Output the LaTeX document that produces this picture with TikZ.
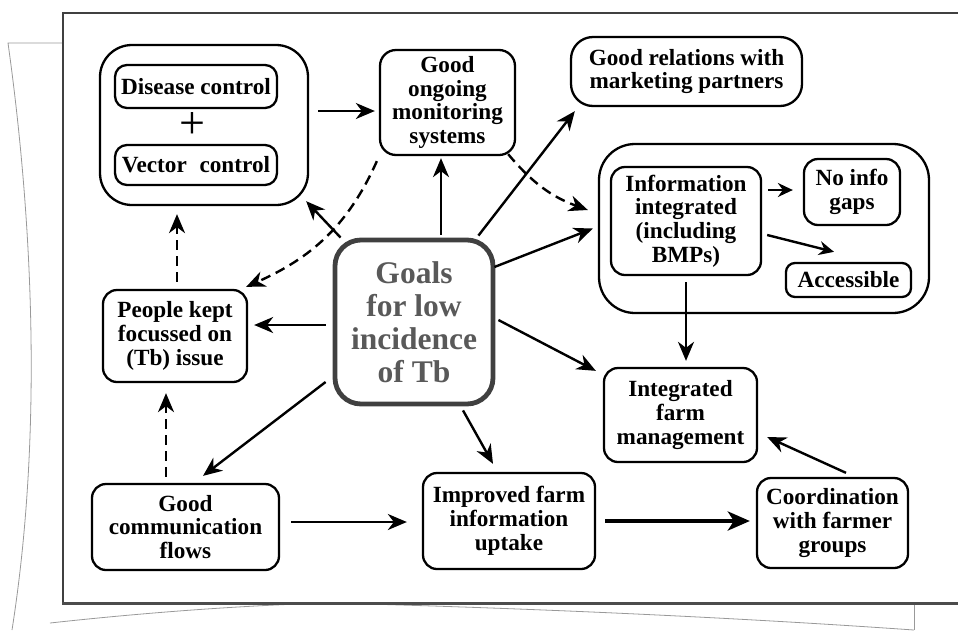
\documentclass[tikz,border=0pt]{standalone}
\usepackage{fontspec}
\setmainfont{Liberation Serif}
\usetikzlibrary{arrows.meta}
\begin{document}
\begin{tikzpicture}[x=1pt,y=-1pt,
  box/.style={draw, line width=2.3pt, rounded corners=14pt, align=center, inner sep=0pt,
    font=\bfseries\fontsize{23.2}{23.8}\selectfont},
  container/.style={draw, line width=2.3pt, rounded corners=32pt, inner sep=0pt},
  arr/.style={-{Stealth[length=19pt,width=16pt,inset=6pt]}, line width=2.4pt},
  smallarr/.style={-{Stealth[length=15pt,width=14pt,inset=5pt]}, line width=2.4pt},
  thickarr/.style={-{Stealth[length=22pt,width=19pt,inset=6pt]}, line width=4.2pt},
  darr/.style={arr, dash pattern=on 10pt off 6pt},
  sheet/.style={draw=black!40, line width=0.8pt},
  frame/.style={draw=black!75, line width=2pt}
]
\useasboundingbox (0,0) rectangle (958,630);
% background sheet
\draw[sheet] (63,43) -- (8,43) .. controls (30,200) and (45,420) .. (12,630);
\draw[sheet] (50,623) .. controls (150,612) and (250,605) .. (330,603)
   .. controls (600,610) and (800,622) .. (914,630);
\draw[sheet] (914,603) -- (914,630);
% main frame
\draw[frame] (958,13) -- (63,13) -- (63,603);
\draw[draw=black!70, line width=3pt] (62,603) -- (958,603);

% containers
\node[container, minimum width=208pt, minimum height=160pt] (dvbox) at (204,125) {};
\node[container, rounded corners=36pt, minimum width=330pt, minimum height=169pt] (infocont) at (764,228.5) {};

% boxes
\node[box, rounded corners=12pt, minimum width=162pt, minimum height=43pt] (disease) at (196,86.5) {Disease control};
\node[box, rounded corners=12pt, minimum width=162pt, minimum height=40pt] (vector) at (196,165) {Vector\hspace{0.55em}control};
\node[font=\fontsize{46}{46}\selectfont, inner sep=0pt] (plus) at (192,126) {+};
\node[box, rounded corners=16pt, minimum width=135pt, minimum height=105pt] (monitor) at (447.5,102.5) {Good\\ongoing\\monitoring\\systems};
\node[box, rounded corners=22pt, minimum width=231pt, minimum height=69pt] (relations) at (686.5,71.5) {Good relations with\\marketing partners};
\node[box, minimum width=150pt, minimum height=108pt] (info) at (686,221) {Information\\integrated\\(including\\BMPs)};
\node[box, minimum width=96pt, minimum height=66pt] (nogaps) at (852,192) {No info\\gaps};
\node[box, rounded corners=9pt, minimum width=125pt, minimum height=34pt] (access) at (848.5,280) {Accessible};
\node[draw=black!75, line width=4.8pt, rounded corners=26pt, align=center, inner sep=0pt,
  text=black!65, font=\bfseries\fontsize{31.5}{33}\selectfont,
  minimum width=158pt, minimum height=164pt] (goals) at (414,322) {Goals\\for low\\incidence\\of Tb};
\node[box, minimum width=144pt, minimum height=92pt] (people) at (175,336) {People kept\\focussed on\\(Tb) issue};
\node[box, minimum width=187pt, minimum height=86pt] (comm) at (185.5,527) {Good\\communication\\flows};
\node[box, minimum width=172pt, minimum height=96pt] (improved) at (509,521) {Improved farm\\information\\uptake};
\node[box, minimum width=153pt, minimum height=94pt] (ifm) at (680.5,415) {Integrated\\farm\\management};
\node[box, minimum width=151pt, minimum height=90pt] (coord) at (832.5,523) {Coordination\\with farmer\\groups};

% connectors
\draw[arr] ([xshift=9pt,yshift=14pt]dvbox.east) -- ([xshift=-4pt,yshift=-8.5pt]monitor.west);
\draw[arr] ([xshift=8pt]goals.north west) -- ([xshift=-3pt,yshift=5pt]dvbox.south east);
\draw[arr] ([xshift=27pt,yshift=3pt]goals.north) -- ([xshift=-6.5pt,yshift=-2pt]monitor.south);
\draw[darr] ([xshift=-2pt,yshift=-5pt]monitor.south west) to[out=246,in=24] ([xshift=-2pt,yshift=2pt]people.north east);
\draw[darr] ([xshift=-8pt,yshift=2pt]monitor.south east) to[out=-50,in=160] ([xshift=-10pt,yshift=18.5pt]infocont.west);
\draw[arr] ([xshift=-17pt,yshift=2pt]goals.north east) -- ([xshift=5pt,yshift=-4pt]relations.south west);
\draw[arr] ([xshift=-1pt,yshift=55pt]goals.east) -- ([xshift=-5pt]infocont.west);
\draw[arr] ([yshift=-6pt]info.south) -- ([xshift=5.5pt,yshift=6pt]ifm.north);
\draw[arr] ([xshift=3pt,yshift=2pt]goals.east) -- ([xshift=-7pt,yshift=-4pt]ifm.north west);
\draw[arr] ([xshift=13.5pt,yshift=4pt]coord.north) -- ([xshift=9pt,yshift=-22pt]ifm.east);
\draw[arr] ([xshift=49pt,yshift=-4pt]goals.south) -- ([xshift=-16pt,yshift=8pt]improved.north);
\draw[arr] ([xshift=-7pt,yshift=-3pt]goals.west) -- ([xshift=6pt,yshift=11pt]people.east);
\draw[arr] ([xshift=-7pt,yshift=-60pt]goals.west) -- ([xshift=17.5pt,yshift=7pt]comm.north);
\draw[darr] ([xshift=-19.5pt,yshift=6pt]comm.north) -- ([xshift=-9pt,yshift=-10pt]people.south);
\draw[darr] ([xshift=2pt,yshift=7pt]people.north) -- ([xshift=-27pt,yshift=-8pt]dvbox.south);
\draw[arr] ([xshift=11pt,yshift=5pt]comm.east) -- ([xshift=-15pt,yshift=-1pt]improved.west);
\draw[thickarr] ([xshift=9pt]improved.east) -- ([xshift=-6pt,yshift=2pt]coord.west);
\draw[smallarr] ([xshift=6pt,yshift=31pt]info.east) -- ([xshift=-10pt,yshift=2pt]nogaps.west);
\draw[smallarr] ([xshift=5pt,yshift=-14pt]info.east) -- ([xshift=-14.5pt,yshift=10pt]access.north);
\end{tikzpicture}
\end{document}
